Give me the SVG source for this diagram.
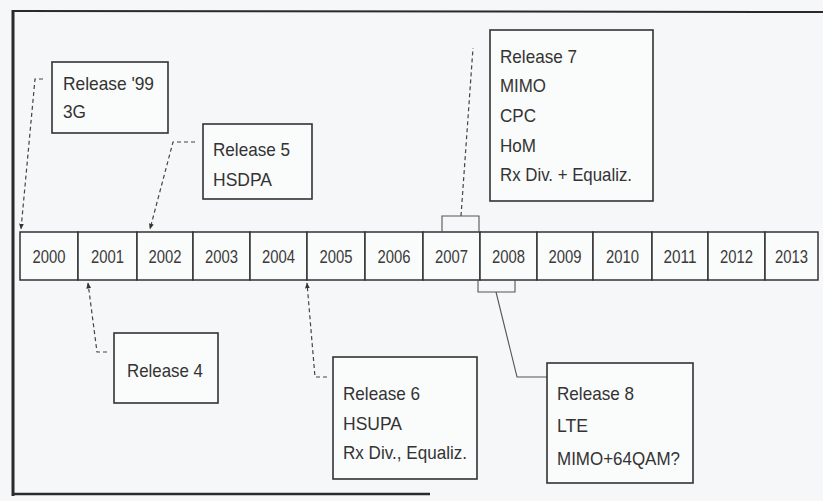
<svg xmlns="http://www.w3.org/2000/svg" width="823" height="501" viewBox="0 0 823 501">
<defs>
<style>
.bg{fill:#f6f7f8}
.frame{stroke:#2a2a2a;fill:none}
.box{fill:#fafbfb;stroke:#333;stroke-width:1.6}
.cell{fill:#fafbfb;stroke:#333;stroke-width:1.5}
.t{font-family:"Liberation Sans",Arial,sans-serif;font-size:19px;fill:#333}
.yr{font-family:"Liberation Sans",Arial,sans-serif;font-size:19px;fill:#3a3a3a;text-anchor:middle}
.dash{fill:none;stroke:#444;stroke-width:1.2;stroke-dasharray:4 3}
.solid{fill:none;stroke:#555;stroke-width:1.1}
</style>
<marker id="arr" viewBox="0 0 10 10" refX="9" refY="5" markerWidth="6" markerHeight="6" orient="auto" markerUnits="userSpaceOnUse">
<path d="M0,1 L10,5 L0,9 Z" fill="#333"/>
</marker>
</defs>
<rect class="bg" x="0" y="0" width="823" height="501"/>
<g id="frame">
<line class="frame" x1="13" y1="10" x2="13" y2="496" stroke-width="3"/>
<line class="frame" x1="12" y1="11" x2="823" y2="12" stroke-width="2"/>
<line class="frame" x1="12" y1="494" x2="430" y2="494" stroke-width="2.5"/>
</g>
<g id="timeline">
<rect class="cell" x="20" y="232" width="58" height="48"/>
<rect class="cell" x="78" y="232" width="59" height="48"/>
<rect class="cell" x="137" y="232" width="56" height="48"/>
<rect class="cell" x="193" y="232" width="57" height="48"/>
<rect class="cell" x="250" y="232" width="57" height="48"/>
<rect class="cell" x="307" y="232" width="58" height="48"/>
<rect class="cell" x="365" y="232" width="58" height="48"/>
<rect class="cell" x="423" y="232" width="57" height="48"/>
<rect class="cell" x="480" y="232" width="57" height="48"/>
<rect class="cell" x="537" y="232" width="56" height="48"/>
<rect class="cell" x="593" y="232" width="59" height="48"/>
<rect class="cell" x="652" y="232" width="56" height="48"/>
<rect class="cell" x="708" y="232" width="57" height="48"/>
<rect class="cell" x="765" y="232" width="53" height="48"/>
<text class="yr" x="49" y="263" textLength="33" lengthAdjust="spacingAndGlyphs">2000</text>
<text class="yr" x="107.5" y="263" textLength="33" lengthAdjust="spacingAndGlyphs">2001</text>
<text class="yr" x="165" y="263" textLength="33" lengthAdjust="spacingAndGlyphs">2002</text>
<text class="yr" x="221.5" y="263" textLength="33" lengthAdjust="spacingAndGlyphs">2003</text>
<text class="yr" x="278.5" y="263" textLength="33" lengthAdjust="spacingAndGlyphs">2004</text>
<text class="yr" x="336" y="263" textLength="33" lengthAdjust="spacingAndGlyphs">2005</text>
<text class="yr" x="394" y="263" textLength="33" lengthAdjust="spacingAndGlyphs">2006</text>
<text class="yr" x="451.5" y="263" textLength="33" lengthAdjust="spacingAndGlyphs">2007</text>
<text class="yr" x="508.5" y="263" textLength="33" lengthAdjust="spacingAndGlyphs">2008</text>
<text class="yr" x="565" y="263" textLength="33" lengthAdjust="spacingAndGlyphs">2009</text>
<text class="yr" x="622.5" y="263" textLength="33" lengthAdjust="spacingAndGlyphs">2010</text>
<text class="yr" x="680" y="263" textLength="33" lengthAdjust="spacingAndGlyphs">2011</text>
<text class="yr" x="736.5" y="263" textLength="33" lengthAdjust="spacingAndGlyphs">2012</text>
<text class="yr" x="791.5" y="263" textLength="33" lengthAdjust="spacingAndGlyphs">2013</text>
</g>
<g id="connectors">
<path class="dash" d="M43,79 H35 L21,229" marker-end="url(#arr)"/>
<path class="dash" d="M195,142 H173 L150,229" marker-end="url(#arr)"/>
<path class="dash" d="M107,352 H97 L88,283" marker-end="url(#arr)"/>
<path class="dash" d="M327,377 H315 L307,283" marker-end="url(#arr)"/>
<path class="solid" d="M442,232 V216 H479 V232"/>
<path class="dash" d="M461,216 L473,48"/>
<path class="solid" d="M478,280 V292 H515 V280"/>
<path class="solid" d="M496,292 L517,377 H547"/>
</g>
<g id="release99">
<rect class="box" x="52" y="62" width="116" height="71"/>
<text class="t" x="63" y="90" textLength="91" lengthAdjust="spacingAndGlyphs">Release '99</text>
<text class="t" x="63" y="118" textLength="23" lengthAdjust="spacingAndGlyphs">3G</text>
</g>
<g id="release5">
<rect class="box" x="203" y="124" width="109" height="75"/>
<text class="t" x="213" y="156" textLength="77" lengthAdjust="spacingAndGlyphs">Release 5</text>
<text class="t" x="213" y="186" textLength="59" lengthAdjust="spacingAndGlyphs">HSDPA</text>
</g>
<g id="release7">
<rect class="box" x="490" y="30" width="163" height="171"/>
<text class="t" x="500" y="63" textLength="77" lengthAdjust="spacingAndGlyphs">Release 7</text>
<text class="t" x="500" y="92" textLength="46" lengthAdjust="spacingAndGlyphs">MIMO</text>
<text class="t" x="500" y="122" textLength="36" lengthAdjust="spacingAndGlyphs">CPC</text>
<text class="t" x="500" y="152" textLength="36" lengthAdjust="spacingAndGlyphs">HoM</text>
<text class="t" x="500" y="181" textLength="132" lengthAdjust="spacingAndGlyphs">Rx Div. + Equaliz.</text>
</g>
<g id="release4">
<rect class="box" x="114" y="333" width="104" height="70"/>
<text class="t" x="127" y="377" textLength="76" lengthAdjust="spacingAndGlyphs">Release 4</text>
</g>
<g id="release6">
<rect class="box" x="333" y="357" width="144" height="122"/>
<text class="t" x="343" y="400" textLength="77" lengthAdjust="spacingAndGlyphs">Release 6</text>
<text class="t" x="343" y="430" textLength="59" lengthAdjust="spacingAndGlyphs">HSUPA</text>
<text class="t" x="343" y="459" textLength="124" lengthAdjust="spacingAndGlyphs">Rx Div., Equaliz.</text>
</g>
<g id="release8">
<rect class="box" x="547" y="363" width="146" height="120"/>
<text class="t" x="557" y="400" textLength="77" lengthAdjust="spacingAndGlyphs">Release 8</text>
<text class="t" x="557" y="432" textLength="31" lengthAdjust="spacingAndGlyphs">LTE</text>
<text class="t" x="557" y="465" textLength="123" lengthAdjust="spacingAndGlyphs">MIMO+64QAM?</text>
</g>
</svg>
